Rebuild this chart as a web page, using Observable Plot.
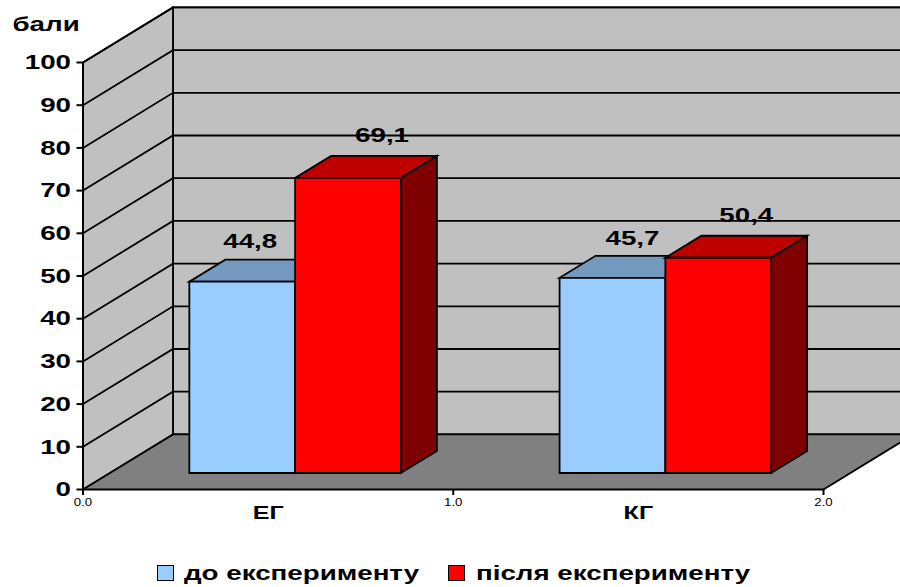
<!DOCTYPE html>
<html lang="uk">
<head>
<meta charset="utf-8">
<script src="https://cdn.jsdelivr.net/npm/d3@7"></script>
<script src="https://cdn.jsdelivr.net/npm/@observablehq/plot@0.6"></script>
<style>
  html, body { margin: 0; padding: 0; background: #fff; }
  #chart svg { display: block; }
  #legend { position: relative; height: 37px; width: 900px; overflow: hidden;
            font: bold 21px "Liberation Sans", Arial, sans-serif; color: #000; }
  #legend i { position: absolute; top: 15px; width: 15px; height: 14px; border: 1.5px solid #000; }
  #legend span { position: absolute; top: 10px; line-height: 26px; white-space: nowrap;
                 transform-origin: 0 50%; transform: scaleX(1.32); }
</style>
</head>
<body>
<div id="chart"></div>
<div id="legend"></div>
<script>
// Scores per group, before and after the experiment
const categories = ["ЕГ", "КГ"];
const before = [44.8, 45.7];
const after = [69.1, 50.4];
const seriesNames = ["до експерименту", "після експерименту"];
const valueTicks = [0, 10, 20, 30, 40, 50, 60, 70, 80, 90, 100];
const yUnit = "бали";

// Oblique 3D projection: depth 0 is the front plane, depth 1 the back wall
const depthX = 0.243;
const depthY = 12.9;
const project = (slot, value, depth) => ({x: slot + depth * depthX, y: value + depth * depthY});

// Bar layout inside a category (gap width 150%)
const barWidth = 1 / 3.5;
const barGap = (1 - 2 * barWidth) / 2;
const barFront = 0.3;
const barBack = 0.7;

const lineWidth = 1.8;
const decimal = (v) => String(v).replace(".", ",");

function poly(points, fill) {
  return Plot.line(points, {
    x: "x", y: "y", fill, stroke: "#000", strokeWidth: lineWidth,
    curve: "linear-closed", strokeLinejoin: "miter", strokeMiterlimit: 4
  });
}

function path(points, strokeWidth = lineWidth) {
  return Plot.line(points, {
    x: "x", y: "y", stroke: "#000", strokeWidth,
    strokeLinejoin: "miter", strokeMiterlimit: 4
  });
}

function bar(x0, value, colors) {
  const x1 = x0 + barWidth;
  const corner = (x, v, d) => project(x, v, d);
  return [
    poly([corner(x0, value, barFront), corner(x1, value, barFront), corner(x1, value, barBack), corner(x0, value, barBack)], colors.top),
    poly([corner(x1, 0, barFront), corner(x1, value, barFront), corner(x1, value, barBack), corner(x1, 0, barBack)], colors.side),
    poly([corner(x0, 0, barFront), corner(x1, 0, barFront), corner(x1, value, barFront), corner(x0, value, barFront)], colors.front)
  ];
}

const blue = {front: "#99CCFF", top: "#7399BF", side: "#4D6680"};
const red = {front: "#FF0000", top: "#BF0000", side: "#7F0000"};
const span = categories.length;

const bars = categories.flatMap((_, i) => [
  ...bar(i + barGap, before[i], blue),
  ...bar(i + barGap + barWidth, after[i], red)
]);

// Horizontal nudges of the value labels, in pixels, per category
const beforeNudge = [8, 20];
const afterNudge = [34, 28];

const valueLabels = categories.flatMap((_, i) => [
  {at: i + barGap + barWidth / 2, value: before[i], dx: beforeNudge[i], dy: -40},
  {at: i + barGap + 1.5 * barWidth, value: after[i], dx: afterNudge[i], dy: -43}
]).map((d) => Plot.text([d], {
  x: (v) => project(v.at, v.value, barFront).x,
  y: (v) => project(v.at, v.value, barFront).y,
  text: (v) => decimal(v.value),
  dx: d.dx, dy: d.dy, fontSize: 21, fontWeight: "bold", fill: "#000"
}));

const chart = Plot.plot({
  width: 900,
  height: 550,
  marginTop: 62,
  marginBottom: 61,
  marginLeft: 82.5,
  marginRight: 77,
  style: {fontFamily: '"Liberation Sans", Arial, sans-serif', color: "#000", background: "#fff"},
  x: {domain: [0, span], axis: null},
  y: {domain: [0, 100], axis: null},
  marks: [
    // back wall, side wall and floor
    poly([project(0, 0, 1), project(span, 0, 1), project(span, 100, 1), project(0, 100, 1)], "#C0C0C0"),
    poly([project(0, 0, 0), project(0, 0, 1), project(0, 100, 1), project(0, 100, 0)], "#C0C0C0"),
    Plot.line([project(0, 0, 0), project(0, 0, 1), project(span, 0, 1), project(span, 0, 0)], {
      x: "x", y: "y", fill: "#808080", curve: "linear-closed"
    }),
    // walls carry no outline; repaint over the strokes above with gridlines only
    ...valueTicks.map((v) => path([project(0, v, 0), project(0, v, 1), project(span, v, 1)])),
    path([project(span, 0, 1), project(span, 0, 0)]),
    path([project(0, 0, 0), project(span, 0, 0)], 2.2),
    ...bars,
    Plot.ruleX([0], {y1: 0, y2: 100, stroke: "#000", strokeWidth: 2}),
    Plot.axisY({
      ticks: valueTicks, tickSize: 6, tickPadding: 6, fontSize: 21, fontWeight: "bold",
      tickFormat: (d) => String(d), label: null, strokeWidth: 2
    }),
    Plot.axisX({ticks: d3.range(span + 1), tickSize: 6, tickFormat: null, label: null, strokeWidth: 2}),
    Plot.axisX({
      ticks: categories.map((_, i) => i + 0.5), tickSize: 0, tickPadding: 16,
      tickFormat: (d) => categories[Math.floor(d)], fontSize: 19, fontWeight: "bold", label: null
    }),
    Plot.text([yUnit], {
      frameAnchor: "top-left", textAnchor: "start", lineAnchor: "middle",
      dx: -70.5, dy: -38, fontSize: 21, fontWeight: "bold", fill: "#000"
    }),
    ...valueLabels
  ]
});
document.getElementById("chart").append(chart);

// The chart's lettering is set wide: stretch each string's glyphs horizontally
const stretch = 1.32;
d3.select(chart).selectAll("text").each(function () {
  const length = this.getComputedTextLength();
  if (length > 0) {
    this.setAttribute("lengthAdjust", "spacingAndGlyphs");
    this.setAttribute("textLength", length * stretch);
  }
});

// Legend below the chart
const legend = d3.select("#legend");
const swatchLeft = [157, 448];
const textLeft = [184, 476];
seriesNames.forEach((name, i) => {
  legend.append("i").style("left", swatchLeft[i] + "px").style("background", [blue.front, red.front][i]);
  legend.append("span").style("left", textLeft[i] + "px").text(name);
});
</script>
</body>
</html>
